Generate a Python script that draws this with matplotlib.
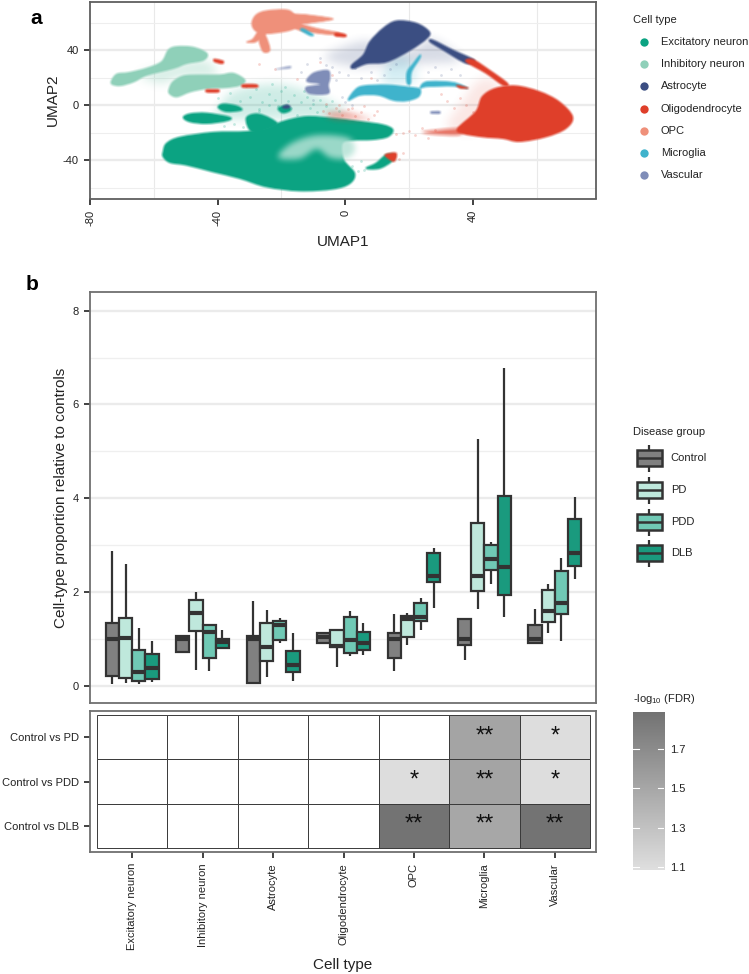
import numpy as np
import matplotlib
matplotlib.use("Agg")
import matplotlib.pyplot as plt
from matplotlib.patches import Rectangle, PathPatch
from matplotlib.path import Path
from matplotlib.colors import LinearSegmentedColormap, Normalize, to_rgb

plt.rcParams['font.family'] = ['Liberation Sans', 'DejaVu Sans']
plt.rcParams['mathtext.fontset'] = 'custom'
plt.rcParams['mathtext.rm'] = 'Liberation Sans'
plt.rcParams['mathtext.default'] = 'regular'

# ---------- data ----------
cell_types = ["Excitatory neuron", "Inhibitory neuron", "Astrocyte", "Oligodendrocyte", "OPC", "Microglia", "Vascular"]
cell_colors = ["#0BA382", "#8FD0B9", "#3B4E82", "#DF3F2A", "#EF907A", "#3FB3CC", "#7F8DB8"]
disease_groups = ["Control", "PD", "PDD", "DLB"]
disease_colors = ["#808080", "#BFE8DC", "#70C9B5", "#1A9A7E"]
comparisons = ["Control vs PD", "Control vs PDD", "Control vs DLB"]

# UMAP cluster outlines (UMAP1, UMAP2)
exc_main = [(-57,-34),(-56,-28),(-51.8,-23.5),(-41.4,-20),(-31,-19.4),(-24.7,-17),(-19.5,-12),(-12.2,-8.5),(-3.9,-9.7),(4.5,-12),(11.8,-14.5),(14.9,-18),(13.3,-23),(8.6,-25),(2.4,-25.5),(-1,-28),(-0.5,-40),(2.9,-49.7),(1.4,-57),(-3.9,-61),(-14.3,-62.3),(-24.7,-59.4),(-33,-53.3),(-41.4,-48.5),(-49.7,-43.6),(-54.9,-41.7),(-57,-37.6)]
exc_a = [(-50.7,-9),(-48.6,-6.5),(-43.4,-6),(-36.2,-9),(-37.2,-11.4),(-43.4,-13.3),(-48.6,-12.1)]
exc_b = [(-39.8,-1.7),(-38.2,0.7),(-34.1,-0.7),(-32.5,-3.6),(-37.2,-4.6)]
exc_c = [(-31,-9.7),(-27.8,-6.5),(-23.6,-9.7),(-21.6,-14.5),(-28.9,-19.4)]
exc_d = [(-21,-2.4),(-18.4,-0.7),(-17.1,-3.6),(-19.5,-5.6)]
exc_e = [(6.6,-46),(9.7,-42.4),(12.8,-36.4),(15.4,-36.4),(14.4,-41.2),(10.7,-46)]
exc_spray = [(-21,-38),(-17,-28),(-9,-22),(1,-24),(3,-33),(0,-39),(-5,-38),(-9,-32),(-14.3,-39)]
exc_haze = [(-40,-5),(-35,10),(-20,15),(-5,3),(-1,-8),(-22,-10),(-40,-10)]
inh_upper = [(-73.1,18.2),(-71.5,22.5),(-67.9,23.5),(-62.2,26.7),(-57.5,31.5),(-55.4,40),(-52.8,42.4),(-47.6,41.9),(-43.4,37.5),(-44.5,32.7),(-49.7,30.3),(-53.9,26.7),(-62.2,21.8),(-66.3,17),(-70.5,14.3),(-73.1,15.3)]
inh_lower = [(-55.1,12.1),(-53.9,17),(-50.7,21.1),(-45.5,21.8),(-39.3,21.8),(-35.1,23),(-31.5,18.2),(-33,14.5),(-37.2,12.8),(-43.4,12.1),(-48.6,9.7),(-52.8,6.1),(-55.1,8.5)]
inh_haze = [(-64.3,21.8),(-56,27.9),(-44.5,32.7),(-40.3,21.8),(-51.8,20.6),(-57.5,15.8)]
opc_body = [(-29.2,59.4),(-27.9,65.5),(-24.7,68.4),(-18.4,69.1),(-15.8,65.5),(-13.7,59.4),(-17.4,54.5),(-24.7,52.1),(-28,54)]
opc_legs = [[(-16,66),(-5.4,63.6),(-4.9,61.8),(-16,59)],
            [(-16,60),(-9,55.8),(-2,52.6),(-2,51),(-8,52.1),(-15,55)],
            [(-26.5,54),(-24.8,49.7),(-23.6,40),(-25.7,38.8),(-27,47)],
            [(-27,54),(-29,48),(-30.9,45.8),(-28,46),(-25,52)]]
astro_body = [(2.1,29.1),(5.7,36.4),(7.8,46.1),(11.9,55.8),(16.1,61.1),(22.3,59.4),(26.3,53.3),(25.5,48.5),(20.3,40),(13,31.5),(6.8,30.3),(2.6,26.7)]
astro_streak = [(27.5,47.3),(33.8,40),(40.5,32.7),(37.9,30.3),(30.7,40),(26.5,46.1)]
astro_haze = [(-6.5,35),(2.4,44.8),(8,46),(20,40),(27,48),(36,33),(24,30),(12,28),(2.4,28)]
oligo_body = [(35.3,-17),(41,-4.8),(43,6.1),(47.2,12.1),(53.5,13.8),(60.8,9.7),(67,2.4),(71.2,-8.5),(69.1,-17),(62.9,-23),(54.6,-26.4),(49.4,-24.2),(43,-23),(36.9,-20.6)]
oligo_streak = [(40,33.2),(45.2,25.5),(50.9,15.8),(49.4,14.5),(44.2,23),(37.9,31.5)]
oligo_thin = [(24.4,-19.4),(35.8,-17),(35.8,-21.8),(27.5,-21.3)]
oligo_haze = [(36,0),(42,18),(48,14),(42,-18),(32,-16)]
micro_body = [(3.1,10.9),(5.7,13.8),(13,14.5),(20.3,12.8),(23.4,11.4),(22.9,6.1),(19.2,3.2),(15.1,3.6),(10.4,7.3),(4.7,7.3),(1,3.6)]
micro_right = [(23.4,12.1),(25.5,17),(33.8,16.5),(38.4,12.1),(33.8,13.8),(25.5,13.3)]
micro_up = [(19.4,15.8),(19.4,24.2),(21.3,30.3),(23.4,36.4),(23.4,34),(20.8,24.2),(20.5,15.8)]
micro_haze = [(14,32),(20,34),(22,18),(12,16)]
vasc_body = [(-11.7,19.4),(-9.6,23.5),(-5.4,25),(-4.9,19.4),(-5.4,14.5),(-5.4,8.5),(-11.1,8.5),(-12.2,12.8),(-8,14.5),(-8,15.8),(-11.7,17)]
vasc_thin = [(-22,26),(-17.4,28.5),(-17.4,26.5)]
red_bits = [[(-41,33.5),(-38.2,32),(-38.6,30),(-41,31.5)],
            [(-43.4,11.2),(-39.8,11.2),(-39.8,9.4),(-43.4,9.4)],
            [(-32,15),(-28,15),(-27.6,13),(-32,12.8)],
            [(-3,52.4),(0,51.5),(0,49.6),(-3,50.2)],
            [(12.5,-36),(16,-35),(15.4,-41),(13.5,-39)],
            [(35,14.5),(38.6,12.4),(36,12.3)]]
micro_bit = [(-14,54.5),(-11,50.5),(-10,51.2),(-13,55.5)]
vasc_bit = [(27,-4.8),(29.5,-4.6),(29.5,-6.2),(27,-6)]
navy_bit = [(-19.8,-1.5),(-18.2,0.2),(-17.2,-1.5),(-18.5,-2.5)]
salmon_bits = [(-6,-6),(0,-5),(5,-8),(8,-10),(-3,-10)]

# sparse stray cells
stray_green_x = [-40,-36,-33,-30,-28,-26,-24,-22,-20,-18,-16,-14,-12,-10,-8,-6,-4,-2,-34,-31,-27,-23,-21,-17,-13,-9,-29,-25,-19,-15,-11,2,4,6,5,-35,-38,-32,-27,-24]
stray_green_y = [5,9,3,6,12,2,8,4,10,3,7,2,6,1,4,-1,3,-4,-2,14,-3,15,-1,-2,10,-5,-8,-11,13,-7,-2,-44,-48,-47,-41,-14,-15,-16,-4,0]
stray_red_x = [-7,-5,-3,-1,1,3,5,7,9,-6,-2,2,6,16,18,20,22,24,30,32,34,36,38,40,26,28,42,-27,-22,-15,-8,18,17,-4,8,10]
stray_red_y = [-4,-6,-2,-7,-3,-8,-5,-10,-7,1,0,-2,-1,-21,-20,-19,-22,-17,8,3,-2,5,0,-5,-24,-18,-3,30,26,19,31,-35,-39,22,20,-4]
stray_blue_x = [-12,-8,-4,-2,1,3,5,8,10,-14,-10,12,14,16,26,28,30,33,36,-1,0,2,-6,-3]
stray_blue_y = [30,34,28,24,22,27,20,24,18,24,4,22,26,30,24,28,22,26,22,6,2,0,29,18]

# five-number summaries per cell type: low whisker, Q1, median, Q3, high whisker
control_stats = [(0.03,0.21,1.00,1.33,2.87),(0.72,0.72,1.00,1.06,1.06),(0.05,0.05,1.00,1.06,1.80),(0.90,0.90,1.04,1.13,1.13),(0.31,0.60,1.00,1.12,1.53),(0.54,0.87,1.00,1.43,1.43),(0.91,0.91,1.00,1.30,1.64)]
pd_stats = [(0.05,0.17,1.02,1.45,2.59),(0.33,1.16,1.56,1.82,2.00),(0.19,0.53,0.83,1.33,1.62),(0.40,0.83,0.85,1.18,1.20),(0.87,1.04,1.43,1.48,1.56),(1.63,2.01,2.33,3.48,5.26),(1.13,1.36,1.60,2.05,2.17)]
pdd_stats = [(0.04,0.10,0.30,0.76,1.24),(0.32,0.60,1.15,1.29,1.31),(0.90,0.98,1.30,1.39,1.45),(0.64,0.69,0.97,1.47,1.60),(1.19,1.37,1.46,1.76,1.87),(2.17,2.47,2.71,3.00,3.06),(0.95,1.52,1.77,2.45,2.73)]
dlb_stats = [(0.07,0.14,0.37,0.67,0.95),(0.80,0.81,0.93,0.99,1.18),(0.11,0.30,0.45,0.73,1.13),(0.65,0.77,0.92,1.14,1.33),(1.65,2.21,2.35,2.83,2.94),(1.46,1.94,2.54,4.05,6.78),(2.27,2.56,2.84,3.56,4.03)]

# -log10(FDR); None means not significant
fdr_pd = [None,None,None,None,None,1.52,1.10]
fdr_pdd = [None,None,None,None,1.10,1.52,1.10]
fdr_dlb = [None,None,None,None,1.88,1.50,1.88]
stars_pd = ["","","","","","**","*"]
stars_pdd = ["","","","","*","**","*"]
stars_dlb = ["","","","","**","**","**"]
cbar_ticks = [1.1, 1.3, 1.5, 1.7]

# ---------- layout ----------
W, H = 749, 974
DPI = 100
def axes_px(fig, l, t, r, b, **kw):
    return fig.add_axes([l/W, 1-b/H, (r-l)/W, (b-t)/H], **kw)

fig = plt.figure(figsize=(W/DPI, H/DPI), dpi=DPI, facecolor='white')
FRAME = '#5f5f5f'
TICK = '#333333'
TXT = '#222222'

def style(ax, frame=FRAME):
    for s in ax.spines.values():
        s.set_color(frame); s.set_linewidth(1.3)
    ax.tick_params(length=4.5, width=1.3, color=TICK, labelsize=8, labelcolor=TXT, pad=3.5)

# soft edge for the point clouds
def box_blur(a, r, axis):
    k = np.ones(2*r+1) / (2*r+1)
    return np.apply_along_axis(lambda v: np.convolve(v, k, mode='same'), axis, a)

def soft_edge(color, radius, passes=2):
    rgb = to_rgb(color)
    def _f(img, dpi):
        pad = radius * 3
        al = np.pad(img[:, :, 3], pad)
        for _ in range(passes):
            al = box_blur(al, radius, 0)
            al = box_blur(al, radius, 1)
        out = np.zeros(al.shape + (4,))
        out[:, :, 0], out[:, :, 1], out[:, :, 2] = rgb
        out[:, :, 3] = al
        return out, -pad, -pad
    return _f

def smooth_path(pts):
    p = np.asarray(pts, float)
    n = len(p)
    verts = [p[0]]; codes = [Path.MOVETO]
    for i in range(n):
        p0, p1, p2, p3 = p[i-1], p[i], p[(i+1) % n], p[(i+2) % n]
        verts += [p1 + (p2-p0)/6, p2 - (p3-p1)/6, p2]
        codes += [Path.CURVE4]*3
    verts.append(p[0]); codes.append(Path.CLOSEPOLY)
    return Path(verts, codes)

# ---------- panel a ----------
ax = axes_px(fig, 90, 2, 596, 198.5)
style(ax)
ax.set_xlim(-80, 78.6); ax.set_ylim(-68, 75)
for v in (-60, -20, 20, 60):
    ax.axvline(v, color='#e9e9e9', lw=0.8, zorder=0)
for v in (60, 20, -20, -60):
    ax.axhline(v, color='#eeeeee', lw=0.8, zorder=0)
for v in (40, 0, -40):
    ax.axhline(v, color='#ebebeb', lw=1.7, zorder=0)

def blob(pts, color, z=3, alpha=1.0, lw=1.0, soft=1, passes=1):
    ptch = PathPatch(smooth_path(pts), fc=color, ec=color if alpha == 1.0 else 'none', lw=lw, alpha=alpha, zorder=z)
    ax.add_patch(ptch)
    if soft:
        ptch.set_agg_filter(soft_edge(color, soft, passes))
    return ptch

E, I, A, O, P, M, V = cell_colors
for pts, c, al in ((exc_haze,E,0.2),(inh_haze,I,0.35),(astro_haze,A,0.2),(oligo_haze,O,0.12),(micro_haze,M,0.22)):
    blob(pts, c, z=1, alpha=al, soft=5, passes=2)
ax.scatter(stray_green_x, stray_green_y, s=4, color=E, alpha=0.22, lw=0, zorder=2)
ax.scatter(stray_red_x, stray_red_y, s=4, color=O, alpha=0.22, lw=0, zorder=2)
ax.scatter(stray_blue_x, stray_blue_y, s=4, color=A, alpha=0.18, lw=0, zorder=2)
blob(salmon_bits, O, z=4, alpha=0.45, soft=3, passes=2)
for pts in (exc_main, exc_a, exc_b, exc_c, exc_d, exc_e):
    blob(pts, E)
blob(exc_spray, '#B4E2D5', z=3.5, alpha=0.85, soft=3, passes=2)
for pts in (inh_upper, inh_lower):
    blob(pts, I)
blob(opc_body, P)
for pts in opc_legs:
    blob(pts, P, lw=0.6)
blob(astro_body, A); blob(astro_streak, A, lw=0.6)
blob(oligo_body, O); blob(oligo_streak, O, lw=0.6); blob(oligo_thin, O, alpha=0.7, soft=2)
blob(micro_body, M); blob(micro_right, M, lw=0.6); blob(micro_up, M, lw=0.6); blob(micro_bit, M, lw=0.5)
blob(vasc_body, V); blob(vasc_thin, V, alpha=0.7); blob(vasc_bit, V, lw=0.5); blob(navy_bit, A, z=4, lw=0.5)
for pts in red_bits:
    blob(pts, O, z=4, lw=0.5)

ax.set_xticks([-80, -40, 0, 40])
ax.set_xticklabels(['-80', '-40', '0', '40'], rotation=90)
ax.set_yticks([-40, 0, 40])
ax.set_yticklabels(['-40', '0', '40'])
ax.set_xlabel('UMAP1', fontsize=11, color=TXT, labelpad=7)
ax.set_ylabel('UMAP2', fontsize=11, color=TXT, labelpad=2)

# ---------- panel b boxes ----------
bx = axes_px(fig, 90, 292, 596, 703)
style(bx, '#707070')
bx.set_xlim(0.4, 7.585); bx.set_ylim(-0.37, 8.4)
for v in (1, 3, 5, 7):
    bx.axhline(v, color='#efefef', lw=0.9, zorder=0)
for v in (0, 2, 4, 6, 8):
    bx.axhline(v, color='#ebebeb', lw=1.7, zorder=0)

all_stats = [control_stats, pd_stats, pdd_stats, dlb_stats]
box_w = 0.1875
for k, (stats, col) in enumerate(zip(all_stats, disease_colors)):
    rows = [dict(whislo=s[0], q1=s[1], med=s[2], q3=s[3], whishi=s[4], fliers=[]) for s in stats]
    pos = [i + 1 + (k - 1.5) * box_w for i in range(len(cell_types))]
    bx.bxp(rows, positions=pos, widths=box_w, showcaps=False, showfliers=False, patch_artist=True, manage_ticks=False,
           boxprops=dict(facecolor=col, edgecolor='#333333', linewidth=1.6),
           whiskerprops=dict(color='#333333', linewidth=1.6, solid_capstyle='butt'),
           medianprops=dict(color='#333333', linewidth=3.0, solid_capstyle='butt'), zorder=3)
bx.set_xticks([])
bx.set_yticks([0, 2, 4, 6, 8])
bx.set_ylabel('Cell-type proportion relative to controls', fontsize=11, color=TXT, labelpad=3)

# ---------- panel b heatmap ----------
hx = axes_px(fig, 90, 711, 596, 852)
style(hx, '#707070')
hx.set_xlim(0.4, 7.585); hx.set_ylim(3.59, 0.41)
cmap = LinearSegmentedColormap.from_list('fdr', ['#DFDFDF', '#727272'])
norm = Normalize(1.084, 1.89)
for r, (vals, st) in enumerate(zip([fdr_pd, fdr_pdd, fdr_dlb], [stars_pd, stars_pdd, stars_dlb])):
    for c, (v, s) in enumerate(zip(vals, st)):
        fc = 'white' if v is None else cmap(norm(v))
        hx.add_patch(Rectangle((c + 0.5, r + 0.5), 1, 1, fc=fc, ec='#3a3a3a', lw=0.7, zorder=2))
        if s:
            hx.text(c + 1, r + 0.98, s, ha='center', va='center', fontsize=17, color='#111111', zorder=3)
hx.set_xticks(range(1, 8))
hx.set_xticklabels(cell_types, rotation=90)
hx.set_yticks([1, 2, 3])
hx.set_yticklabels(comparisons)
hx.set_xlabel('Cell type', fontsize=11, color=TXT)
hx.xaxis.set_label_coords(0.5, -0.755)

# ---------- colourbar ----------
cx = axes_px(fig, 632.7, 711.7, 664.3, 870)
gradient = np.linspace(1.89, 1.084, 256).reshape(-1, 1)
cx.imshow(gradient, aspect='auto', cmap=cmap, norm=norm, extent=[0, 1, 1.084, 1.89])
for s in cx.spines.values():
    s.set_visible(False)
cx.set_xticks([])
cx.yaxis.tick_right()
cx.set_yticks(cbar_ticks)
cx.set_yticklabels([f'{t:.1f}' for t in cbar_ticks])
cx.tick_params(axis='y', length=0, labelsize=8, labelcolor=TXT, pad=4)
for t in cbar_ticks:
    cx.plot([0, 0.2], [t, t], color='white', lw=0.8)
    cx.plot([0.8, 1], [t, t], color='white', lw=0.8)
cx.set_xlim(0, 1); cx.set_ylim(1.084, 1.89)

# ---------- overlay: legends, panel letters ----------
ov = fig.add_axes([0, 0, 1, 1], zorder=10)
ov.set_xlim(0, W); ov.set_ylim(H, 0); ov.axis('off'); ov.patch.set_alpha(0)

ov.text(36, 19, 'a', fontsize=15, fontweight='bold', ha='center', va='center', color='black')
ov.text(32, 284, 'b', fontsize=15, fontweight='bold', ha='center', va='center', color='black')

ov.text(633, 20, 'Cell type', fontsize=8, va='center', color=TXT)
for name, col, y in zip(cell_types, cell_colors, [42, 64, 86, 108.5, 130.5, 153, 175]):
    ov.scatter([644], [y], s=36, color=col, lw=0)
    ov.text(660.7, y, name, fontsize=8, va='center', color=TXT)

ov.text(633, 432, 'Disease group', fontsize=8, va='center', color=TXT)
for name, col, y in zip(disease_groups, disease_colors, [458, 490, 522, 553]):
    ov.plot([649, 649], [y - 13.5, y + 13.5], color='#333333', lw=1.6, solid_capstyle='butt', zorder=1)
    ov.add_patch(Rectangle((636.5, y - 8), 25, 16, fc=col, ec='#333333', lw=1.8, zorder=2))
    ov.plot([636.5, 661.5], [y, y], color='#333333', lw=1.8, solid_capstyle='butt', zorder=3)
    ov.text(670.7, y, name, fontsize=8, va='center', color=TXT)

ov.text(633, 699, '-log$_{10}$ (FDR)', fontsize=8, va='center', color=TXT)

fig.savefig('out.png', dpi=DPI, facecolor='white')
